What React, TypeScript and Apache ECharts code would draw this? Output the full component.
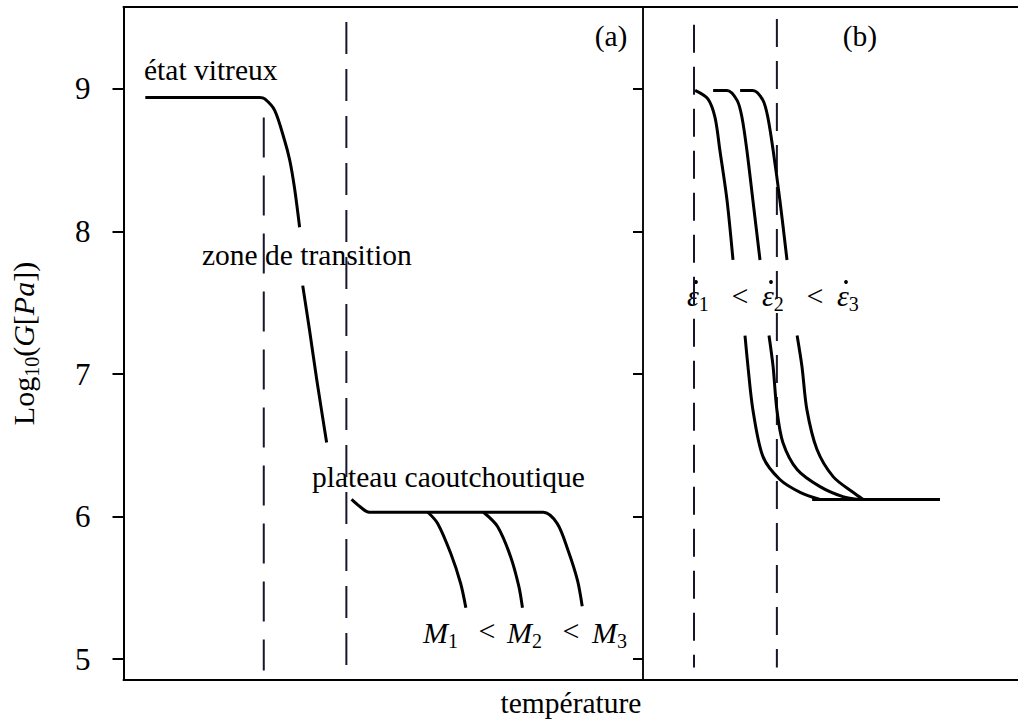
import React, { useEffect, useRef } from "react";
import * as echarts from "echarts";

const FONT = '"Liberation Serif", "Times New Roman", serif';

// Shared log-modulus axis (both panels)
const yTicks = [5, 6, 7, 8, 9];
const yMin = 4.853;
const yMax = 9.575;

// Panel (a): temperature in arbitrary units 0..100
const glassyA = [
  [4.2, 8.94], [26.2, 8.94], [27.2, 8.93], [29.1, 8.85], [31.0, 8.64],
  [32.0, 8.5], [32.9, 8.31], [33.9, 8.03],
];
const transitionA = [
  [34.5, 7.62], [35.8, 7.31], [37.2, 6.96], [39.1, 6.52],
];
const rubberyM3 = [
  [43.9, 6.12], [45.5, 6.07], [47.3, 6.03], [80.8, 6.03], [83.5, 5.95],
  [85.6, 5.76], [87.4, 5.55], [88.3, 5.37],
];
const flowM1 = [
  [58.6, 6.03], [60.5, 5.95], [63.0, 5.74], [64.9, 5.53], [65.9, 5.36],
];
const flowM2 = [
  [69.3, 6.03], [72.0, 5.93], [74.5, 5.72], [76.1, 5.51], [76.8, 5.36],
];
const boundsA = [
  { x: 27.0, top: 8.8, bottom: 4.92 },
  { x: 42.9, top: 9.47, bottom: 4.89 },
];

// Panel (b): temperature in arbitrary units 0..100
const rate1Upper = [
  [13.9, 8.99], [17.3, 8.93], [19.2, 8.8], [20.5, 8.57], [22.4, 8.22], [24.0, 7.8],
];
const rate1Lower = [
  [27.2, 7.27], [28.0, 7.05], [29.3, 6.75], [32.0, 6.42], [36.5, 6.26],
  [41.9, 6.17], [47.2, 6.12],
];
const rate2Upper = [
  [18.7, 8.99], [22.4, 8.99], [25.1, 8.92], [26.4, 8.8], [27.7, 8.57],
  [29.3, 8.22], [31.2, 7.8],
];
const rate2Lower = [
  [33.6, 7.27], [34.7, 7.05], [35.7, 6.75], [37.3, 6.52], [41.1, 6.33],
  [47.2, 6.21], [53.3, 6.14], [57.9, 6.12],
];
const rate3Upper = [
  [25.9, 8.99], [29.3, 8.99], [32.0, 8.92], [33.3, 8.8], [34.7, 8.57],
  [36.5, 8.22], [38.4, 7.8],
];
const rate3Lower = [
  [41.1, 7.27], [42.4, 7.05], [43.7, 6.75], [46.4, 6.47], [50.7, 6.28],
  [56.0, 6.17], [58.7, 6.12],
];
const plateauB = [
  [45.1, 6.12], [79.2, 6.12],
];
const boundsB = [
  { x: 13.6, top: 9.45, bottom: 4.94 },
  { x: 35.7, top: 9.49, bottom: 4.94 },
];

// Labels of the ordered families
const molarIndices = ["1", "2", "3"];
const rateIndices = ["1", "2", "3"];

const curve = (data: number[][], xi: number, yi: number) => ({
  type: "line",
  xAxisIndex: xi,
  yAxisIndex: yi,
  data,
  symbol: "none",
  smooth: 0.3,
  silent: true,
  lineStyle: { color: "#000", width: 3 },
});

const dashed = (
  b: { x: number; top: number; bottom: number },
  xi: number,
  yi: number,
  pattern: number[]
) => ({
  type: "line",
  xAxisIndex: xi,
  yAxisIndex: yi,
  data: [[b.x, b.top], [b.x, b.bottom]],
  symbol: "none",
  silent: true,
  lineStyle: { color: "#16162c", width: 2, type: pattern },
});

const frameX = (grid: number, position: "top" | "bottom") => ({
  gridIndex: grid,
  type: "value",
  min: 0,
  max: 100,
  position,
  axisLine: { show: true, onZero: false, lineStyle: { color: "#000", width: 2 } },
  axisTick: { show: false },
  axisLabel: { show: false },
  splitLine: { show: false },
});

const subRich = {
  n: { fontFamily: FONT, fontSize: 30, color: "#000" },
  i: { fontFamily: FONT, fontSize: 30, fontStyle: "italic", color: "#000" },
  s: {
    fontFamily: FONT,
    fontSize: 20,
    color: "#000",
    verticalAlign: "top",
    padding: [17, 0, 0, 0],
  },
};

const label = (text: string, x: number, y: number, align = "left", size = 29.5) => ({
  type: "text",
  x,
  y,
  silent: true,
  style: {
    text,
    fontFamily: FONT,
    fontSize: size,
    fill: "#000",
    align,
    verticalAlign: "middle",
  },
});

const mathLabel = (text: string, x: number, y: number) => ({
  type: "text",
  x,
  y,
  silent: true,
  style: {
    text,
    fontFamily: FONT,
    fontSize: 30,
    fill: "#000",
    verticalAlign: "middle",
    rich: subRich,
  },
});

// M1 < M2 < M3
const molarLeft = [423, 507, 592];
const molarLess = [487, 571];
const molarLabel = [
  ...molarIndices.map((k, i) => mathLabel(`{i|M}{s|${k}}`, molarLeft[i], 632)),
  ...molarLess.map((x) => label("<", x, 630, "center", 30)),
];

// ε̇1 < ε̇2 < ε̇3 (time-derivative dot drawn above each epsilon)
const rateLeft = [687, 762, 837];
const rateLess = [740, 815];
const rateLabel = [
  ...rateIndices.map((k, i) => mathLabel(`{i|ε}{s|${k}}`, rateLeft[i], 295)),
  ...rateLeft.map((x) => ({
    type: "circle",
    silent: true,
    shape: { cx: x + 9, cy: 282, r: 1.9 },
    style: { fill: "#000" },
  })),
  ...rateLess.map((x) => label("<", x, 295, "center", 30)),
];

const option = {
  animation: false,
  backgroundColor: "#fff",
  grid: [
    { left: 121.5, top: 7, width: 521.5, height: 673 },
    { left: 643, top: 7, width: 375, height: 673 },
  ],
  xAxis: [frameX(0, "bottom"), frameX(0, "top"), frameX(1, "bottom"), frameX(1, "top")],
  yAxis: [
    {
      gridIndex: 0,
      type: "value",
      min: yMin,
      max: yMax,
      axisLine: { show: true, onZero: false, lineStyle: { color: "#000", width: 2 } },
      axisTick: { show: true, length: 11, customValues: yTicks, lineStyle: { color: "#000", width: 2 } },
      axisLabel: {
        customValues: yTicks,
        margin: 33,
        fontFamily: FONT,
        fontSize: 31,
        color: "#000",
        align: "right",
        padding: [0, 0, 0, 0],
      },
      splitLine: { show: false },
      name: "{n|Log}{s|10}{n|(}{i|G}{n|[}{i|Pa}{n|])}",
      nameLocation: "middle",
      nameRotate: 90,
      nameGap: 82,
      nameTextStyle: { fontFamily: FONT, fontSize: 30, color: "#000", rich: subRich },
    },
    {
      gridIndex: 1,
      type: "value",
      min: yMin,
      max: yMax,
      axisLine: { show: true, onZero: false, lineStyle: { color: "#111", width: 2 } },
      axisTick: { show: true, length: 10, customValues: yTicks, lineStyle: { color: "#000", width: 2 } },
      axisLabel: { show: false },
      splitLine: { show: false },
    },
  ],
  series: [
    dashed(boundsA[0], 0, 0, [40, 18]),
    dashed(boundsA[1], 0, 0, [32, 15]),
    dashed(boundsB[0], 2, 1, [28, 14]),
    dashed(boundsB[1], 2, 1, [28, 14]),
    curve(glassyA, 0, 0),
    curve(transitionA, 0, 0),
    curve(rubberyM3, 0, 0),
    curve(flowM1, 0, 0),
    curve(flowM2, 0, 0),
    curve(rate1Upper, 2, 1),
    curve(rate1Lower, 2, 1),
    curve(rate2Upper, 2, 1),
    curve(rate2Lower, 2, 1),
    curve(rate3Upper, 2, 1),
    curve(rate3Lower, 2, 1),
    curve(plateauB, 2, 1),
  ],
  graphic: [
    label("état vitreux", 144, 70),
    label("zone de transition", 202, 255),
    label("plateau caoutchoutique", 312, 477),
    label("(a)", 611, 36, "center"),
    label("(b)", 860, 36, "center"),
    label("température", 571, 703, "center"),
    ...molarLabel,
    ...rateLabel,
  ],
};

export default function App() {
  const ref = useRef<HTMLDivElement>(null);
  useEffect(() => {
    document.body.style.margin = "0";
    const chart = echarts.init(ref.current!, null, { renderer: "svg" });
    chart.setOption(option as any);
    return () => chart.dispose();
  }, []);
  return (
    <div
      ref={ref}
      style={{ position: "absolute", left: 0, top: 0, width: 1018, height: 719, background: "#fff" }}
    />
  );
}
